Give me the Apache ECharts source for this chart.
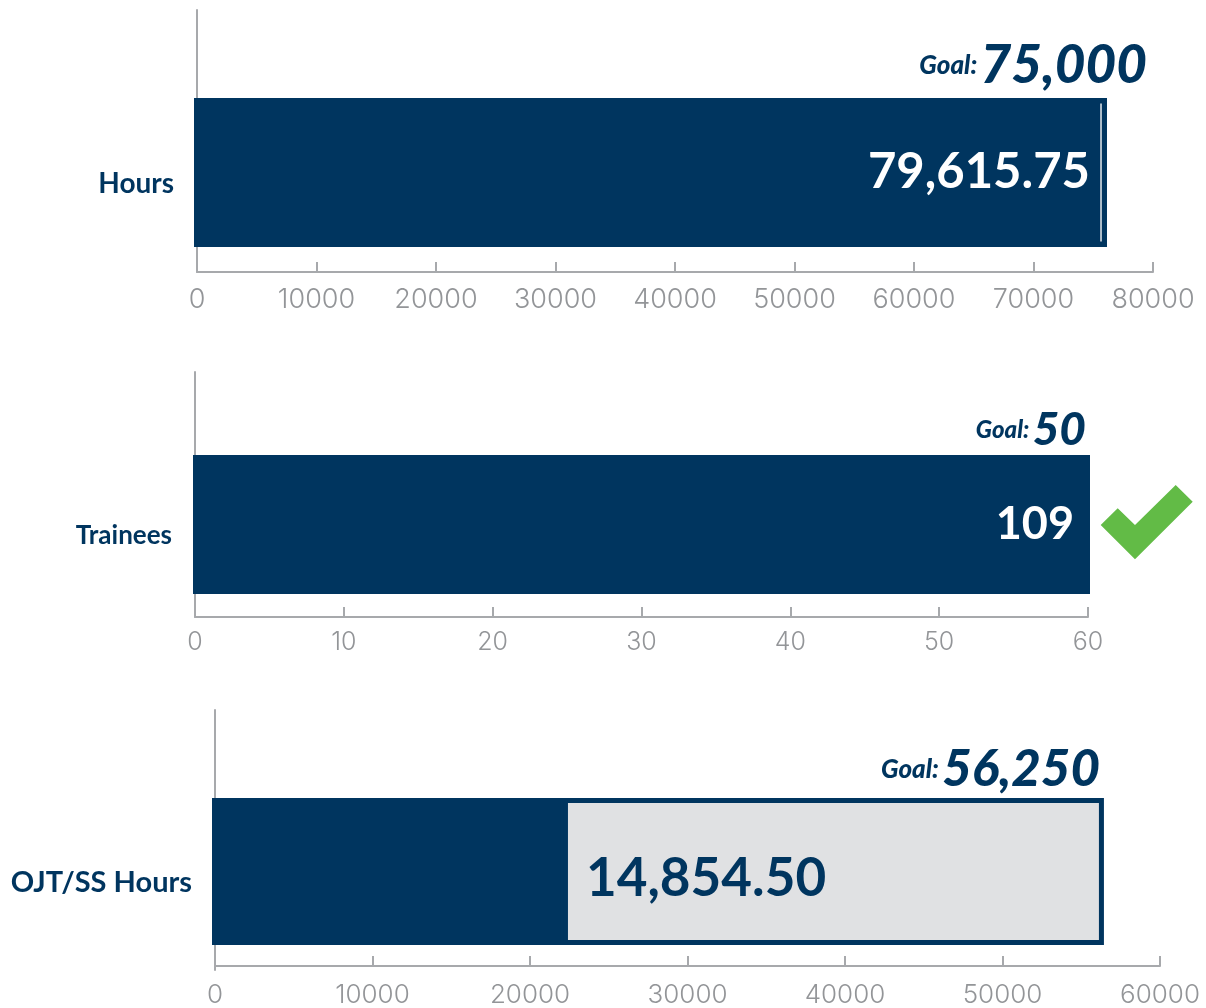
<!DOCTYPE html>
<html>
<head>
<meta charset="utf-8">
<title>Goals</title>
<style>
html,body{margin:0;padding:0;background:#fff}
#main{width:1206px;height:1008px}
</style>
<script src="https://cdn.jsdelivr.net/npm/echarts@6/dist/echarts.min.js"></script>
</head>
<body>
<div id="main"></div>
<script>
// chart values, one entry per panel
const categories = ['Hours', 'Trainees', 'OJT/SS Hours'];
const barValues = [76150, 109, 22410];
const valueLabels = ['79,615.75', '109', '14,854.50'];
const goalLabels = ['75,000', '50', '56,250'];
const axisMax = [80000, 60, 60000];
const axisStep = [10000, 10, 10000];
// white goal marker in the first bar, grey goal box in the third
const hoursGoalMark = 75650;
const ojtGoalBox = 56440;

const navy = '#00355f';
const axisGrey = '#a7a9ac';
const labelGrey = '#939598';
const font = 'Lato';

// layout of each panel
const panels = [
    {left: 197, width: 956, axisY: 272, lineTop: 10, barMid: 172.5, barH: 149, overhang: 3, tickSize: 27, tickMargin: 14, catSize: 28, valSize: 49, valShift: 0, goalRight: 1147, goalBase: 84, goalSize: 53, goalWord: 26},
    {left: 195, width: 893, axisY: 617, lineTop: 372, barMid: 524.5, barH: 139, overhang: 2, tickSize: 25, tickMargin: 13, catSize: 26, valSize: 45, valShift: 0, goalRight: 1086, goalBase: 445, goalSize: 46, goalWord: 24},
    {left: 215, width: 945, axisY: 970, lineTop: 710, barMid: 873.5, barH: 147, overhang: 3, tickSize: 26, tickMargin: 16, catSize: 29, valSize: 53, valShift: 7, goalRight: 1100, goalBase: 787, goalSize: 51, goalWord: 26}
];

let grids = [], xAxes = [], yAxes = [], series = [], graphics = [];

panels.forEach(function (p, i) {
    let g = grids.length;
    let halfBand = p.axisY - p.barMid;

    // grid for the bars, centred on the bar
    grids.push({left: p.left, width: p.width, top: p.barMid - halfBand, height: halfBand * 2});
    xAxes.push({
        gridIndex: g, type: 'value', min: 0, max: axisMax[i], interval: axisStep[i],
        axisLine: {show: true, lineStyle: {color: axisGrey, width: 2}},
        axisTick: {show: true, inside: true, length: 10, lineStyle: {color: axisGrey, width: 2}},
        splitLine: {show: false},
        axisLabel: {
            color: labelGrey, fontFamily: 'Inter', fontWeight: 300, fontSize: p.tickSize,
            margin: p.tickMargin, showMaxLabel: true,
            formatter: function (v) { return String(v); }
        }
    });
    yAxes.push({
        gridIndex: g, type: 'category', data: [categories[i]],
        axisLine: {show: false}, axisTick: {show: false},
        axisLabel: {
            color: navy, fontFamily: font, fontWeight: 700, fontSize: p.catSize, margin: 23,
            verticalAlign: 'top', lineHeight: 23
        }
    });

    // second grid only carries the tall vertical axis line
    grids.push({left: p.left, width: p.width, top: p.lineTop, height: p.axisY - p.lineTop});
    xAxes.push({gridIndex: g + 1, type: 'value', min: 0, max: axisMax[i], show: false});
    yAxes.push({
        gridIndex: g + 1, type: 'value', min: 0, max: 1,
        axisLine: {show: true, lineStyle: {color: axisGrey, width: 2}},
        axisTick: {show: false}, axisLabel: {show: false}, splitLine: {show: false}
    });

    // shadow pulls the bar slightly left of the axis line
    let barStyle = {
        color: navy, borderColor: navy, borderWidth: 4,
        shadowColor: navy, shadowBlur: 0, shadowOffsetX: -p.overhang
    };

    // the box behind the third bar
    if (i === 2) {
        series.push({
            type: 'bar', xAxisIndex: g, yAxisIndex: g, barWidth: p.barH, barGap: '-100%',
            silent: true, data: [ojtGoalBox],
            itemStyle: {color: '#e0e1e3', borderColor: navy, borderWidth: 5}
        });
    }

    series.push({
        type: 'bar', xAxisIndex: g, yAxisIndex: g, barWidth: p.barH, barGap: '-100%',
        silent: true, data: [barValues[i]],
        itemStyle: barStyle,
        label: {
            show: true,
            position: i === 2 ? 'right' : 'insideRight',
            distance: i === 2 ? 18 : (i === 0 ? 17 : 16),
            offset: [0, p.valShift],
            formatter: valueLabels[i],
            color: i === 2 ? navy : '#ffffff',
            fontFamily: font, fontWeight: 700, fontSize: p.valSize
        }
    });

    if (i === 0) {
        series.push({
            type: 'scatter', xAxisIndex: g, yAxisIndex: g, silent: true, z: 5,
            symbol: 'rect', symbolSize: [1.5, 138],
            itemStyle: {color: '#e3e8ec', opacity: 1},
            data: [[hoursGoalMark, categories[i]]]
        });
    }

    graphics.push({
        type: 'text', x: p.goalRight, y: p.goalBase + 8,
        style: {
            text: '{a|Goal:} {b|' + goalLabels[i] + '}',
            align: 'right', verticalAlign: 'bottom',
            rich: {
                a: {fill: navy, fontFamily: font, fontWeight: 900, fontStyle: 'italic', fontSize: p.goalWord},
                b: {fill: navy, fontFamily: font, fontWeight: 900, fontStyle: 'italic', fontSize: p.goalSize}
            }
        }
    });
});

// green check beside the trainees bar
graphics.push({
    type: 'polygon',
    shape: {points: [[1100.7, 525], [1117.7, 508.3], [1135, 525], [1175.7, 485], [1192.7, 501.7], [1135, 559.3]]},
    style: {fill: '#62bb46'}
});

let chart = echarts.init(document.getElementById('main'));
chart.setOption({
    animation: false,
    backgroundColor: '#ffffff',
    grid: grids,
    xAxis: xAxes,
    yAxis: yAxes,
    series: series,
    graphic: graphics
});
</script>
</body>
</html>
